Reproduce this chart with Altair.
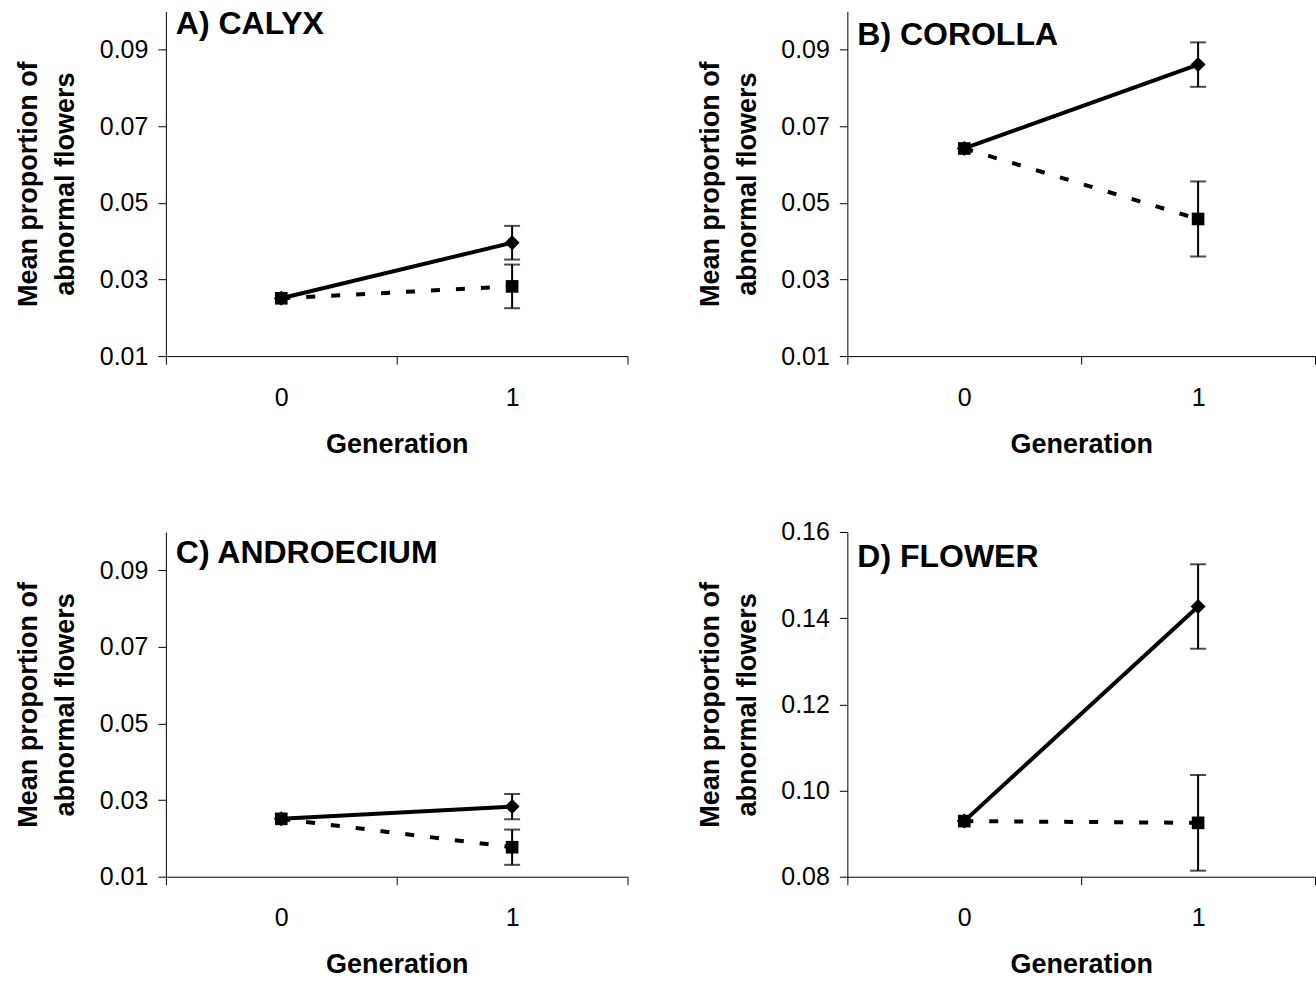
import altair as alt
import pandas as pd

# ---- data ----
panel_titles = ["A) CALYX", "B) COROLLA", "C) ANDROECIUM", "D) FLOWER"]
generation = [0, 1]
solid_mean = [[0.0251, 0.0396], [0.0642, 0.0861], [0.0251, 0.0283], [0.0929, 0.1427]]
solid_err = [[0.0, 0.0044], [0.0, 0.0058], [0.0, 0.0033], [0.0, 0.0098]]
dashed_mean = [[0.0251, 0.0282], [0.0642, 0.0458], [0.0251, 0.0177], [0.0929, 0.0925]]
dashed_err = [[0.0, 0.0057], [0.0, 0.0098], [0.0, 0.0046], [0.0, 0.0111]]
y_domains = [[0.01, 0.10], [0.01, 0.10], [0.01, 0.10], [0.08, 0.16]]
y_ticks = [[0.01, 0.03, 0.05, 0.07, 0.09]] * 3 + [[0.08, 0.10, 0.12, 0.14, 0.16]]
x_tick_values = [-0.5, 0, 0.5, 1, 1.5]
y_title = ["Mean proportion of", "abnormal flowers"]
x_title = "Generation"

# ---- layout / style ----
FONT = "Liberation Sans"
panel_w = [462, 468, 462, 468]
panel_h = [345, 345, 345, 345]
label_y = [23, 34, 31, 35]


def panel(i):
    w, h = panel_w[i], panel_h[i]
    rows = []
    for s, means, errs in (("solid", solid_mean[i], solid_err[i]),
                           ("dashed", dashed_mean[i], dashed_err[i])):
        for g, m, e in zip(generation, means, errs):
            rows.append({"gen": g, "mean": m, "err": e, "series": s,
                         "lo": m - e, "hi": m + e})
    df = pd.DataFrame(rows)

    xaxis = alt.Axis(
        values=x_tick_values,
        labelExpr="datum.value % 1 === 0 ? format(datum.value, 'd') : ''",
        tickOpacity={"condition": {"test": "datum.value % 1 !== 0", "value": 1}, "value": 0},
        tickSize=8, tickColor="black", tickWidth=1,
        domainColor="black", domainWidth=1,
        labelFontSize=25, labelColor="black", labelPadding=21, labelFont=FONT,
        labelOverlap=False, labelFlush=False,
        title=x_title, titleFontSize=27, titleFontWeight="bold", titleFont=FONT,
        titleColor="black", titlePadding=21, grid=False,
    )
    yaxis = alt.Axis(
        values=y_ticks[i], format=".2f",
        tickSize=8, tickColor="black", tickWidth=1,
        domainColor="black", domainWidth=1,
        labelFontSize=25, labelColor="black", labelPadding=10, labelFont=FONT,
        labelOverlap=False,
        title=y_title, titleFontSize=27, titleFontWeight="bold", titleFont=FONT,
        titleColor="black", titleAngle=270, titleAlign="center",
        titleBaseline="alphabetic", titleLineHeight=37,
        titleX=-129, titleY=h / 2, grid=False,
    )
    xs = alt.Scale(domain=[-0.5, 1.5], nice=False, zero=False)
    ys = alt.Scale(domain=y_domains[i], nice=False, zero=False)

    def X():
        return alt.X("gen:Q", scale=xs, axis=xaxis)

    def Y(field):
        return alt.Y(f"{field}:Q", scale=ys, axis=yaxis)

    base = alt.Chart(df)
    solid = base.transform_filter("datum.series == 'solid'")
    dashed = base.transform_filter("datum.series == 'dashed'")
    witherr = base.transform_filter("datum.err > 0")

    l1 = solid.mark_line(color="black", strokeWidth=4).encode(x=X(), y=Y("mean"))
    l2 = dashed.mark_line(color="black", strokeWidth=4, strokeDash=[9, 16]).encode(x=X(), y=Y("mean"))
    err_rule = witherr.mark_rule(color="black", strokeWidth=2).encode(
        x=X(), y=Y("lo"), y2="hi:Q")
    cap_lo = witherr.mark_tick(color="black", thickness=2, size=16, orient="horizontal").encode(
        x=X(), y=Y("lo"))
    cap_hi = witherr.mark_tick(color="black", thickness=2, size=16, orient="horizontal").encode(
        x=X(), y=Y("hi"))
    p1 = solid.mark_point(shape="diamond", filled=True, color="black", size=225, opacity=1).encode(
        x=X(), y=Y("mean"))
    p2 = dashed.mark_point(shape="square", filled=True, color="black", size=160, opacity=1).encode(
        x=X(), y=Y("mean"))
    txt = alt.Chart(pd.DataFrame({"t": [panel_titles[i]]})).mark_text(
        font=FONT, fontSize=32, fontWeight="bold", color="black",
        align="left", baseline="alphabetic",
    ).encode(text="t:N", x=alt.value(10), y=alt.value(label_y[i]))

    return alt.layer(l1, l2, err_rule, cap_lo, cap_hi, p1, p2, txt).properties(width=w, height=h)


chart = alt.concat(*[panel(i) for i in range(4)], columns=2,
                   spacing={"row": 63, "column": 68}).properties(
    padding={"left": 15, "top": 8, "right": 0, "bottom": 5}
).configure(font=FONT, view=alt.ViewConfig(stroke=None))

chart.save("out.html", embed_options={"renderer": "svg", "actions": False})
